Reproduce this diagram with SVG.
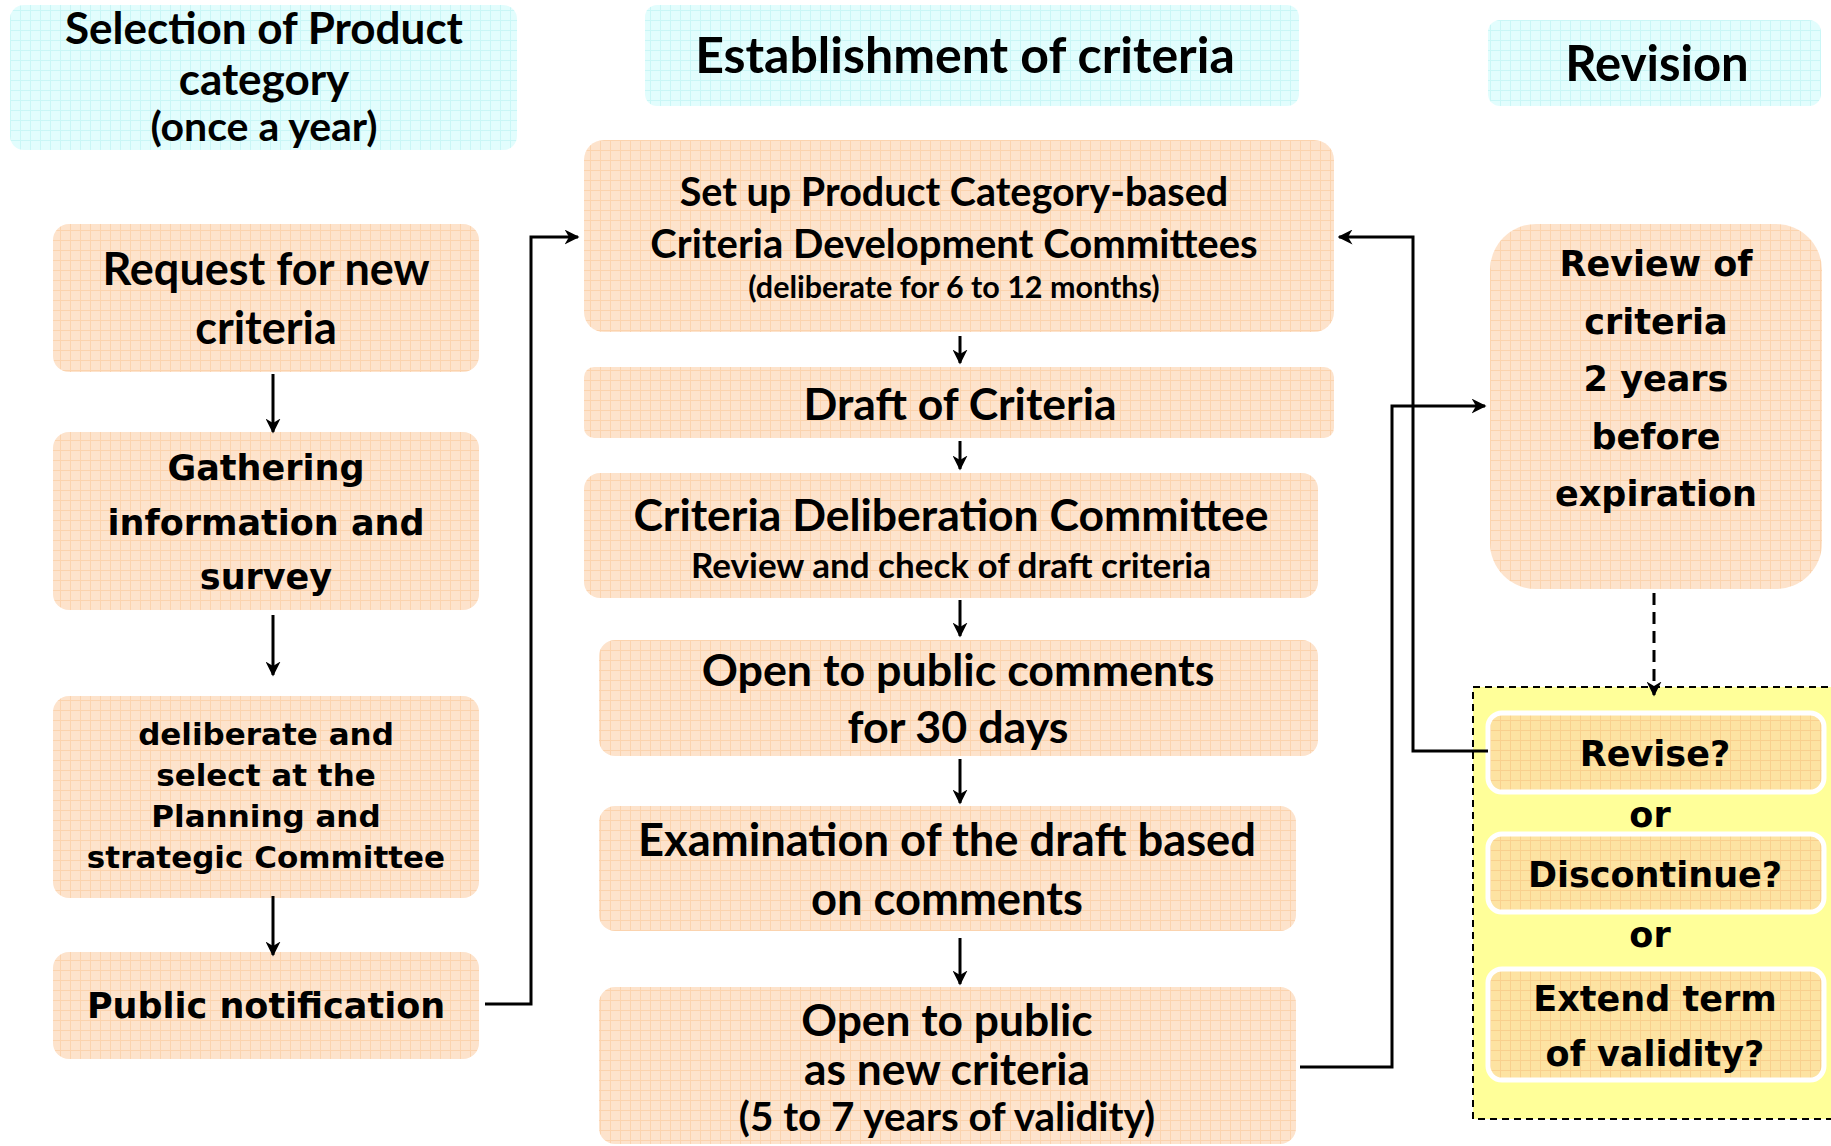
<svg xmlns="http://www.w3.org/2000/svg" width="1831" height="1146" viewBox="0 0 1831 1146">
<defs>
<pattern id="gOr" width="10" height="10" patternUnits="userSpaceOnUse">
<rect width="10" height="10" fill="#fde3cc"/>
<path d="M0 0.5H10M0.5 0V10" stroke="#fbd3ae" stroke-width="1"/>
</pattern>
<pattern id="gCy" width="10" height="10" patternUnits="userSpaceOnUse">
<rect width="10" height="10" fill="#e2fdfd"/>
<path d="M0 0.5H10M0.5 0V10" stroke="#c9f6f6" stroke-width="1"/>
</pattern>
<pattern id="gAm" width="10" height="10" patternUnits="userSpaceOnUse">
<rect width="10" height="10" fill="#fde3a2"/>
<path d="M0 0.5H10M0.5 0V10" stroke="#f9d08e" stroke-width="1"/>
</pattern>
<marker id="ah" viewBox="0 0 10 10" refX="9" refY="5" markerWidth="5" markerHeight="5" orient="auto" markerUnits="strokeWidth">
<path d="M0 0L10 5L0 10L3 5Z" fill="#000"/>
</marker>
</defs>
<style>
.hdr{fill:url(#gCy)}
.box{fill:url(#gOr)}
.opt{fill:url(#gAm);stroke:#fff;stroke-width:5}
.c{font-family:Lato,"Open Sans","Liberation Sans",sans-serif;font-weight:bold;fill:#000;text-anchor:middle}
.v{font-family:"DejaVu Sans","Liberation Sans",sans-serif;font-weight:bold;fill:#000;text-anchor:middle}
.ln{fill:none;stroke:#000;stroke-width:3}
</style>
<rect width="1831" height="1146" fill="#fff"/>

<g id="hdr-selection">
<rect class="hdr" x="10" y="5" width="507" height="145" rx="14"/>
<text class="c" x="264" y="44" font-size="44">Selection of Product</text>
<text class="c" x="264" y="95" font-size="44">category</text>
<text class="c" x="264" y="141" font-size="41">(once a year)</text>
</g>
<g id="hdr-establishment">
<rect class="hdr" x="645" y="5" width="654" height="101" rx="12"/>
<text class="c" x="965" y="73" font-size="50">Establishment of criteria</text>
</g>
<g id="hdr-revision">
<rect class="hdr" x="1488" y="20" width="333" height="86" rx="12"/>
<text class="c" x="1657" y="81" font-size="49">Revision</text>
</g>

<g id="n-request">
<rect class="box" x="53" y="224" width="426" height="148" rx="16"/>
<text class="c" x="266" y="285" font-size="45">Request for new</text>
<text class="c" x="266" y="344" font-size="45">criteria</text>
</g>
<g id="n-gathering">
<rect class="box" x="53" y="432" width="426" height="178" rx="16"/>
<text class="v" x="266" y="480" font-size="35">Gathering</text>
<text class="v" x="266" y="535" font-size="35">information and</text>
<text class="v" x="266" y="589" font-size="35">survey</text>
</g>
<g id="n-deliberate">
<rect class="box" x="53" y="696" width="426" height="202" rx="16"/>
<text class="v" x="266" y="745" font-size="31">deliberate and</text>
<text class="v" x="266" y="786" font-size="31">select at the</text>
<text class="v" x="266" y="827" font-size="31">Planning and</text>
<text class="v" x="266" y="868" font-size="31">strategic Committee</text>
</g>
<g id="n-notification">
<rect class="box" x="53" y="952" width="426" height="107" rx="16"/>
<text class="v" x="266" y="1018" font-size="35">Public notification</text>
</g>

<g id="n-setup">
<rect class="box" x="584" y="140" width="750" height="192" rx="20"/>
<text class="c" x="954" y="206" font-size="39.5">Set up Product Category-based</text>
<text class="c" x="954" y="258" font-size="40">Criteria Development Committees</text>
<text class="c" x="954" y="298" font-size="30.5">(deliberate for 6 to 12 months)</text>
</g>
<g id="n-draft">
<rect class="box" x="584" y="367" width="750" height="71" rx="10"/>
<text class="c" x="960" y="420" font-size="44.5">Draft of Criteria</text>
</g>
<g id="n-deliberation">
<rect class="box" x="584" y="473" width="734" height="125" rx="16"/>
<text class="c" x="951" y="531" font-size="44.5">Criteria Deliberation Committee</text>
<text class="c" x="951" y="578" font-size="35">Review and check of draft criteria</text>
</g>
<g id="n-comments">
<rect class="box" x="599" y="640" width="719" height="116" rx="16"/>
<text class="c" x="958" y="686" font-size="44.8">Open to public comments</text>
<text class="c" x="958" y="743" font-size="44.8">for 30 days</text>
</g>
<g id="n-examination">
<rect class="box" x="599" y="806" width="697" height="125" rx="16"/>
<text class="c" x="947" y="856" font-size="45.3">Examination of the draft based</text>
<text class="c" x="947" y="915" font-size="45.3">on comments</text>
</g>
<g id="n-newcriteria">
<rect class="box" x="599" y="987" width="697" height="157" rx="16"/>
<text class="c" x="947" y="1036" font-size="44.3">Open to public</text>
<text class="c" x="947" y="1085" font-size="44.3">as new criteria</text>
<text class="c" x="947" y="1131" font-size="40.4">(5 to 7 years of validity)</text>
</g>

<g id="n-review">
<rect class="box" x="1490" y="224" width="332" height="365" rx="46"/>
<text class="v" x="1656" y="276" font-size="35">Review of</text>
<text class="v" x="1656" y="334" font-size="35">criteria</text>
<text class="v" x="1656" y="391" font-size="35">2 years</text>
<text class="v" x="1656" y="449" font-size="35">before</text>
<text class="v" x="1656" y="506" font-size="35">expiration</text>
</g>

<g id="n-options">
<rect x="1473" y="687" width="360" height="432" fill="#ffff99" stroke="#000" stroke-width="2" stroke-dasharray="7 5"/>
<g id="n-revise">
<rect class="opt" x="1488" y="713" width="336" height="79" rx="14"/>
<text class="v" x="1655" y="766" font-size="35">Revise?</text>
</g>
<text class="v" x="1650" y="827" font-size="35">or</text>
<g id="n-discontinue">
<rect class="opt" x="1488" y="834" width="336" height="78" rx="14"/>
<text class="v" x="1655" y="887" font-size="35">Discontinue?</text>
</g>
<text class="v" x="1650" y="947" font-size="35">or</text>
<g id="n-extend">
<rect class="opt" x="1488" y="969" width="336" height="111" rx="14"/>
<text class="v" x="1655" y="1011" font-size="35">Extend term</text>
<text class="v" x="1655" y="1066" font-size="35">of validity?</text>
</g>
</g>

<g id="connectors">
<path class="ln" d="M273 374V432" marker-end="url(#ah)"/>
<path class="ln" d="M273 615V675" marker-end="url(#ah)"/>
<path class="ln" d="M273 896V955" marker-end="url(#ah)"/>
<path class="ln" d="M485 1004H531V237H578" marker-end="url(#ah)"/>
<path class="ln" d="M960 336V363" marker-end="url(#ah)"/>
<path class="ln" d="M960 441V469" marker-end="url(#ah)"/>
<path class="ln" d="M960 600V636" marker-end="url(#ah)"/>
<path class="ln" d="M960 759V803" marker-end="url(#ah)"/>
<path class="ln" d="M960 938V984" marker-end="url(#ah)"/>
<path class="ln" d="M1300 1067H1392V406H1485" marker-end="url(#ah)"/>
<path class="ln" d="M1488 751H1413V237H1339" marker-end="url(#ah)"/>
<path class="ln" d="M1654 593V695" stroke-width="3.5" stroke-dasharray="12 7" marker-end="url(#ah)"/>
</g>
</svg>
